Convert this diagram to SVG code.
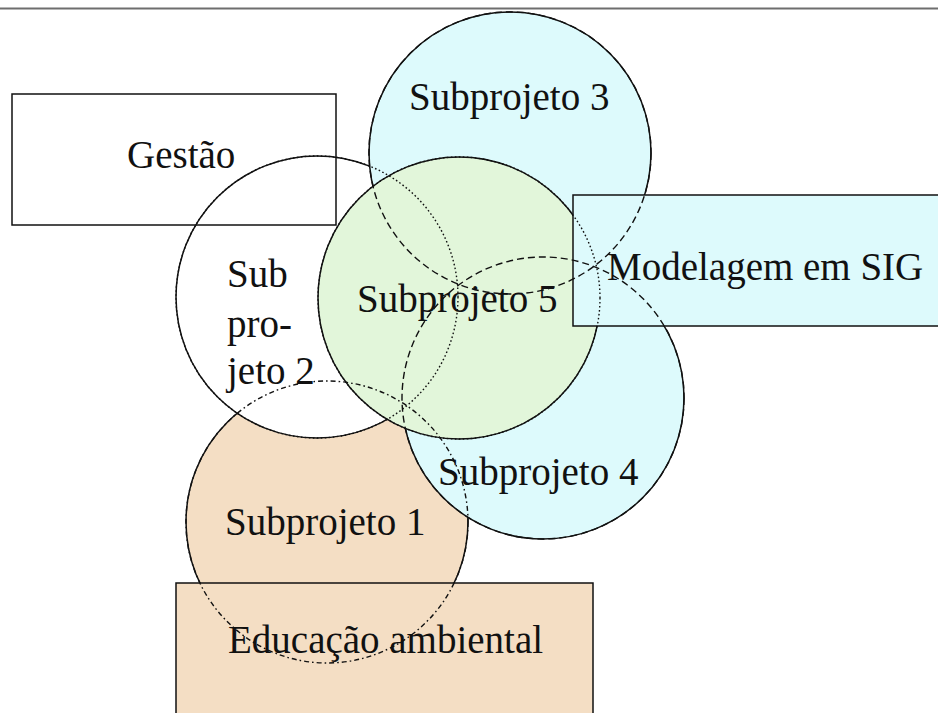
<svg xmlns="http://www.w3.org/2000/svg" width="938" height="713" viewBox="0 0 938 713">
  <style>
    .shape { stroke: #111111; stroke-width: 1.5; }
    .white { fill: #ffffff; }
    .cyan { fill: #ddfafc; }
    .green { fill: #e2f6da; }
    .peach { fill: #f4dec4; }
    .label { font-family: "Liberation Serif", "Times New Roman", serif; font-size: 39px; fill: #111111; }
    .hidden { fill: none; stroke: #111111; stroke-width: 1.4; }
    .dash { stroke-dasharray: 7 4; }
    .dot { stroke-dasharray: 1.6 2.4; }
    .dashdot { stroke-dasharray: 5 3 1.6 3; }
  </style>

  <rect width="938" height="713" fill="#ffffff"/>
  <!-- top rule -->
  <line x1="0" y1="8.5" x2="938" y2="8.5" stroke="#6e6e6e" stroke-width="1.8"/>

  <!-- nodes, back to front -->
  <g id="subprojeto-1">
    <circle class="shape peach" cx="327" cy="522" r="141"/>
    <text class="label" x="225" y="535">Subprojeto 1</text>
  </g>

  <g id="subprojeto-2">
    <circle class="shape white" cx="317" cy="297" r="141"/>
    <text class="label" x="227" y="287">Sub</text>
    <text class="label" x="227" y="337">pro-</text>
    <text class="label" x="227" y="384">jeto 2</text>
  </g>

  <g id="gestao">
    <rect class="shape" fill="none" x="12" y="94" width="324" height="131"/>
    <text class="label" x="127" y="168">Gestão</text>
  </g>

  <g id="subprojeto-3">
    <circle class="shape cyan" cx="510" cy="153" r="141"/>
    <text class="label" x="409" y="110">Subprojeto 3</text>
  </g>

  <g id="subprojeto-4">
    <circle class="shape cyan" cx="543" cy="398" r="141"/>
    <text class="label" x="438" y="485">Subprojeto 4</text>
  </g>

  <g id="subprojeto-5">
    <circle class="shape green" cx="459" cy="298" r="141"/>
    <text class="label" x="357" y="312">Subprojeto 5</text>
  </g>

  <g id="modelagem-sig">
    <rect class="shape cyan" x="573" y="195" width="380" height="131"/>
    <text class="label" x="607" y="280">Modelagem em SIG</text>
  </g>

  <g id="educacao-ambiental">
    <rect class="shape peach" x="176" y="583" width="417" height="150"/>
    <text class="label" x="228" y="653">Educação ambiental</text>
  </g>

  <!-- outlines of the circles where they pass under other shapes -->
  <g id="hidden-outlines">
    <circle class="hidden dashdot" cx="327" cy="522" r="141"/>
    <circle class="hidden dot" cx="317" cy="297" r="141"/>
    <circle class="hidden dash" cx="510" cy="153" r="141"/>
    <circle class="hidden dash" cx="543" cy="398" r="141"/>
    <circle class="hidden dot" cx="459" cy="298" r="141"/>
  </g>
</svg>
